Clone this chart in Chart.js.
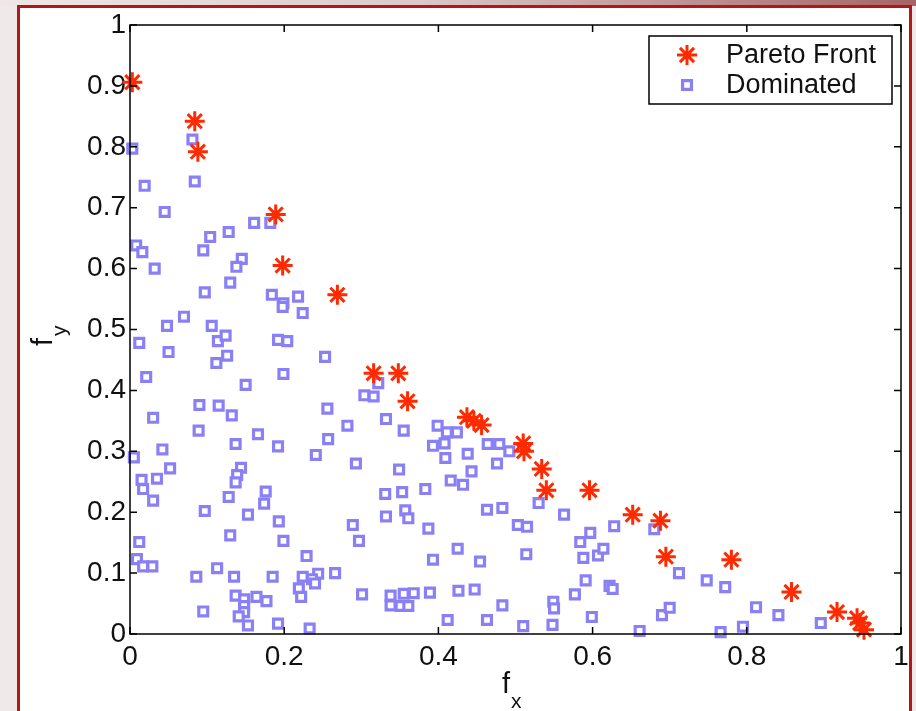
<!DOCTYPE html>
<html><head><meta charset="utf-8">
<script src="https://cdn.jsdelivr.net/npm/chart.js@4/dist/chart.umd.min.js"></script>
<style>
html,body{margin:0;padding:0;width:916px;height:711px;overflow:hidden;background:#f0e9e9;}
#topband{position:absolute;left:0;top:0;width:916px;height:6px;background:linear-gradient(to right,#efe7e7,#dccaca 45%,#a66565);}
#panel{position:absolute;left:17px;top:5px;width:895px;height:730px;background:#fff;border:3px solid #b41616;box-sizing:border-box;}
#c{position:absolute;left:0;top:0;}
</style></head>
<body>
<div id="topband"></div>
<div id="panel"></div>
<canvas id="c" width="916" height="711"></canvas>
<script>
// ---- data ----
const paretoX = [0.003,0.084,0.088,0.189,0.198,0.269,0.316,0.348,0.360,0.437,0.446,0.456,0.510,0.511,0.534,0.540,0.596,0.652,0.688,0.695,0.780,0.858,0.917,0.943,0.947,0.952];
const paretoY = [0.906,0.842,0.792,0.689,0.605,0.557,0.428,0.428,0.382,0.356,0.350,0.343,0.313,0.300,0.271,0.236,0.236,0.196,0.186,0.127,0.122,0.069,0.036,0.026,0.018,0.007];

const domX = [0.003,0.081,0.019,0.084,0.045,0.008,0.016,0.032,0.095,0.104,0.128,0.161,0.182,0.145,0.138,0.130,0.097,0.184,0.218,0.199,0.198,0.224,0.048,0.070,0.106,
  0.012,0.050,0.114,0.124,0.126,0.112,0.192,0.204,0.253,0.199,0.021,0.150,0.090,0.115,0.132,0.030,0.256,0.304,0.316,0.322,0.282,0.332,0.089,0.166,0.137,0.192,0.257,
  0.005,0.042,0.052,0.241,0.293,0.144,0.139,0.137,0.015,0.035,0.017,0.030,0.128,0.176,0.174,0.331,0.349,0.097,0.153,0.193,0.289,0.332,0.012,0.130,0.199,0.297,0.229,
  0.009,0.017,0.029,0.113,0.086,0.135,0.185,0.224,0.244,0.266,0.236,0.240,0.219,0.222,0.137,0.148,0.164,0.177,0.148,0.148,0.141,0.153,0.095,0.192,0.233,0.301,0.338,0.338,
  0.355,0.399,0.411,0.424,0.393,0.408,0.409,0.438,0.443,0.464,0.479,0.492,0.476,0.353,0.383,0.416,0.432,0.357,0.361,0.387,0.463,0.483,0.530,0.563,0.503,0.515,0.584,
  0.597,0.628,0.680,0.425,0.393,0.454,0.514,0.588,0.607,0.614,0.591,0.577,0.622,0.626,0.355,0.368,0.351,0.361,0.389,0.426,0.447,0.483,0.549,0.550,0.412,0.463,0.510,
  0.548,0.599,0.661,0.690,0.700,0.712,0.748,0.772,0.766,0.795,0.812,0.841,0.896];
const domY = [0.797,0.812,0.736,0.743,0.693,0.638,0.627,0.600,0.630,0.652,0.660,0.675,0.675,0.616,0.603,0.577,0.561,0.557,0.554,0.543,0.537,0.527,0.506,0.521,0.506,
  0.478,0.463,0.481,0.490,0.457,0.445,0.483,0.481,0.455,0.427,0.422,0.409,0.376,0.375,0.359,0.355,0.370,0.392,0.390,0.412,0.342,0.353,0.334,0.328,0.312,0.308,0.320,
  0.290,0.303,0.272,0.294,0.280,0.273,0.261,0.249,0.253,0.255,0.238,0.219,0.225,0.234,0.214,0.230,0.270,0.202,0.196,0.185,0.179,0.193,0.151,0.162,0.153,0.153,0.128,
  0.123,0.111,0.111,0.108,0.094,0.094,0.094,0.094,0.099,0.100,0.090,0.083,0.075,0.061,0.063,0.057,0.061,0.054,0.046,0.036,0.029,0.014,0.037,0.017,0.009,0.065,0.063,0.047,
  0.334,0.342,0.331,0.331,0.309,0.313,0.289,0.296,0.267,0.312,0.312,0.300,0.280,0.233,0.238,0.252,0.245,0.203,0.190,0.173,0.204,0.207,0.215,0.196,0.179,0.176,0.151,
  0.166,0.177,0.172,0.140,0.122,0.119,0.131,0.125,0.129,0.140,0.088,0.065,0.079,0.074,0.066,0.067,0.046,0.046,0.068,0.071,0.073,0.047,0.053,0.042,0.023,0.023,0.013,
  0.015,0.028,0.005,0.031,0.043,0.100,0.088,0.077,0.003,0.012,0.044,0.031,0.018];

const xTickLabels = ['0','0.2','0.4','0.6','0.8','1'];
const yTickLabels = ['0','0.1','0.2','0.3','0.4','0.5','0.6','0.7','0.8','0.9','1'];
const seriesNames = ['Pareto Front','Dominated'];
const axisTitles = {x:['f','x'], y:['f','y']};

// ---- styles ----
const RED = '#ff2a00';
const BLUE = '#8a80f6';
const FONT = "'Liberation Sans', Arial, Helvetica, sans-serif";
const TXT = '#111';

const boxPlugin = {
  id: 'matlabBox',
  afterDatasetsDraw(chart) {
    const {ctx, chartArea: a, scales: {x, y}} = chart;
    ctx.save();
    ctx.strokeStyle = '#000';
    ctx.lineWidth = 1.5;
    ctx.strokeRect(a.left, a.top, a.right - a.left, a.bottom - a.top);
    const L = 7;
    ctx.beginPath();
    x.ticks.forEach(t => {
      const p = x.getPixelForValue(t.value);
      ctx.moveTo(p, a.bottom); ctx.lineTo(p, a.bottom - L);
      ctx.moveTo(p, a.top); ctx.lineTo(p, a.top + L);
    });
    y.ticks.forEach(t => {
      const p = y.getPixelForValue(t.value);
      ctx.moveTo(a.left, p); ctx.lineTo(a.left + L, p);
      ctx.moveTo(a.right, p); ctx.lineTo(a.right - L, p);
    });
    ctx.stroke();
    ctx.restore();
  },
  afterDraw(chart) {
    const {ctx} = chart;
    ctx.save();
    // legend
    const bx = 649, by = 36, bw = 243, bh = 68;
    ctx.fillStyle = '#fff';
    ctx.fillRect(bx, by, bw, bh);
    ctx.strokeStyle = '#000';
    ctx.lineWidth = 1.5;
    ctx.strokeRect(bx, by, bw, bh);
    chart.data.datasets.forEach((ds, i) => {
      const cy = by + 19 + i * 30;
      ctx.fillStyle = ds.backgroundColor; ctx.strokeStyle = ds.borderColor; ctx.lineWidth = ds.borderWidth;
      Chart.helpers.drawPoint(ctx, {pointStyle: ds.pointStyle, radius: ds.pointRadius, borderWidth: ds.borderWidth, rotation: 0}, 687, cy);
      ctx.fillStyle = TXT;
      ctx.font = '27px ' + FONT;
      ctx.textAlign = 'left';
      ctx.textBaseline = 'middle';
      ctx.fillText(ds.label, 726, cy + 1);
    });
    // x title
    ctx.fillStyle = TXT;
    ctx.textAlign = 'left';
    ctx.textBaseline = 'alphabetic';
    ctx.font = '29px ' + FONT;
    ctx.fillText(axisTitles.x[0], 502, 693);
    ctx.font = '21px ' + FONT;
    ctx.fillText(axisTitles.x[1], 511, 708);
    // y title
    ctx.translate(52, 346);
    ctx.rotate(-Math.PI / 2);
    ctx.font = '29px ' + FONT;
    ctx.fillText(axisTitles.y[0], 0, 0);
    ctx.font = '21px ' + FONT;
    ctx.fillText(axisTitles.y[1], 10, 14);
    ctx.restore();
  }
};

new Chart(document.getElementById('c'), {
  type: 'scatter',
  data: {
    datasets: [
      {label: seriesNames[0], data: paretoX.map((v, i) => ({x: v, y: paretoY[i]})),
       pointStyle: 'star', pointRadius: 10, borderWidth: 3, borderColor: RED, backgroundColor: RED, clip: false},
      {label: seriesNames[1], data: domX.map((v, i) => ({x: v, y: domY[i]})),
       pointStyle: 'rect', pointRadius: 6.3, borderWidth: 3.2, borderColor: BLUE, backgroundColor: '#fff', clip: false}
    ]
  },
  options: {
    responsive: false, animation: false, events: [],
    layout: {padding: {left: 0, top: 25, right: 15, bottom: 0}},
    plugins: {legend: {display: false}, tooltip: {enabled: false}},
    scales: {
      x: {type: 'linear', min: 0, max: 1,
          grid: {display: false, drawTicks: false}, border: {display: false},
          ticks: {stepSize: 0.2, padding: 6, color: TXT, font: {family: FONT, size: 28}, maxRotation: 0, autoSkip: false,
                  callback: (v, i) => xTickLabels[i]},
          afterFit: s => { s.height = 77; }},
      y: {type: 'linear', min: 0, max: 1,
          grid: {display: false, drawTicks: false}, border: {display: false},
          ticks: {stepSize: 0.1, padding: 4, color: TXT, font: {family: FONT, size: 28}, autoSkip: false,
                  callback: (v, i) => yTickLabels[i]},
          afterFit: s => { s.width = 130; }}
    }
  },
  plugins: [boxPlugin]
});
</script>
</body></html>
